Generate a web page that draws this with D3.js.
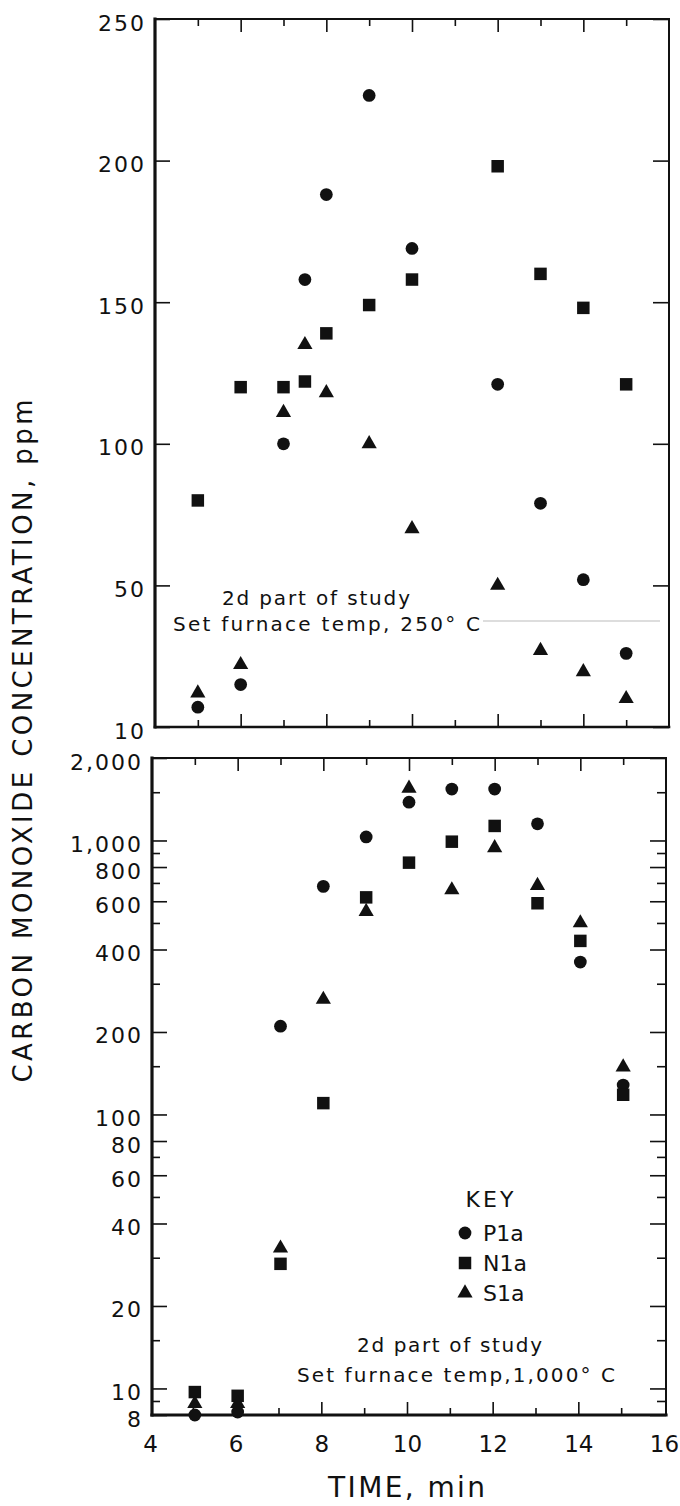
<!DOCTYPE html>
<html>
<head>
<meta charset="utf-8">
<script src="https://cdn.jsdelivr.net/npm/d3@7"></script>
<style>
  html, body { margin: 0; padding: 0; background: #fff; }
  svg text { font-family: "DejaVu Sans", sans-serif; fill: #111; }
</style>
</head>
<body>
<svg id="chart" width="680" height="1506"></svg>
<script>
// ---- Time axis (min) ----
const timeTicks = [5, 6, 7, 8, 9, 10, 11, 12, 13, 14, 15];
const timeLabels = [4, 6, 8, 10, 12, 14, 16];

// ---- Upper panel: furnace at 250 °C ----
const times250 = [5, 6, 7, 7.5, 8, 9, 10, 12, 13, 14, 15];
const p1a250 = [7, 15, 100, 158, 188, 223, 169, 121, 79, 52, 26];
const n1a250 = [80, 120, 120, 122, 139, 149, 158, 198, 160, 148, 121];
const s1a250 = [12, 22, 111, 135, 118, 100, 70, 50, 27, 19.5, 10];
const ticks250 = [0, 50, 100, 150, 200, 250];
const tickLabels250 = ["10", "50", "100", "150", "200", "250"];

// ---- Lower panel: furnace at 1,000 °C (log scale) ----
const times1000 = [5, 6, 7, 8, 9, 10, 11, 12, 13, 14, 15];
const p1a1000 = [8, 8.2, 210, 680, 1030, 1380, 1540, 1540, 1150, 360, 128];
const n1a1000 = [9.7, 9.4, 28.5, 110, 620, 830, 990, 1130, 590, 430, 118];
const s1a1000 = [8.8, 8.8, 32.5, 263, 550, 1550, 660, 940, 685, 500, 149];
const ticks1000Major = [8, 10, 20, 40, 60, 80, 100, 200, 400, 600, 800, 1000, 2000];
const ticks1000Minor = [9, 15, 30, 50, 70, 150, 300, 500, 700, 900, 1500];

const seriesNames = ["P1a", "N1a", "S1a"];
const symbolTypes = [d3.symbolCircle, d3.symbolSquare, d3.symbolTriangle];
const symbolSizes = [128, 156, 100];

const yTitle = "CARBON MONOXIDE CONCENTRATION, ppm";
const xTitle = "TIME, min";
const note250 = ["2d part of study", "Set furnace temp, 250° C"];
const note1000 = ["2d part of study", "Set furnace temp,1,000° C"];

const svg = d3.select("#chart");
const ink = "#111";

function symbolPath(i) {
  return d3.symbol().type(symbolTypes[i]).size(symbolSizes[i])();
}

function drawPanel(opt) {
  const g = svg.append("g");
  const x = opt.x, y = opt.y;
  const [x0, x1] = x.range();
  const [yb, yt] = y.range();

  // time ticks on top and bottom edges, pointing inward; even minutes longer
  const even = timeTicks.filter(t => t % 2 === 0);
  const odd = timeTicks.filter(t => t % 2 !== 0);
  [[even, 13], [odd, 7]].forEach(([vals, len]) => {
    g.append("g").attr("transform", `translate(0,${yt})`)
      .call(d3.axisTop(x).tickValues(vals).tickSize(-len).tickFormat(""));
    g.append("g").attr("transform", `translate(0,${yb})`)
      .call(d3.axisBottom(opt.xb || x).tickValues(vals).tickSize(-len).tickFormat(""));
  });

  // value ticks, left (labelled) and right, pointing inward
  const left = g.append("g").attr("transform", `translate(${x0},0)`)
    .call(d3.axisLeft(y).tickValues(opt.major).tickSize(-15).tickPadding(9)
      .tickFormat((d, i) => opt.labels(d, i)));
  left.selectAll("text")
    .attr("dy", "0.5em")
    .style("font-size", "22px")
    .style("letter-spacing", "2px");
  g.append("g").attr("transform", `translate(${x1},0)`)
    .call(d3.axisRight(y).tickValues(opt.major).tickSize(-16).tickFormat(""));
  if (opt.minor) {
    g.append("g").attr("transform", `translate(${x0},0)`)
      .call(d3.axisLeft(y).tickValues(opt.minor).tickSize(-8).tickFormat(""));
    g.append("g").attr("transform", `translate(${x1},0)`)
      .call(d3.axisRight(y).tickValues(opt.minor).tickSize(-9).tickFormat(""));
  }
  g.selectAll(".domain").remove();
  g.selectAll(".tick line").attr("stroke", ink).attr("stroke-width", 1.6);

  // frame: heavier left and bottom edges
  const frame = [
    [x0, yt, x0, yb, 3.2],
    [x0, yb, x1, yb, opt.bottomWidth],
    [x0, yt, x1, yt, 2],
    [x1, yt, x1, yb, 2]
  ];
  g.selectAll("line.frame").data(frame).join("line")
    .attr("class", "frame")
    .attr("x1", d => d[0]).attr("y1", d => d[1])
    .attr("x2", d => d[2]).attr("y2", d => d[3])
    .attr("stroke", ink).attr("stroke-width", d => d[4])
    .attr("stroke-linecap", "square");

  // data markers
  opt.series.forEach((vals, si) => {
    g.append("g").selectAll("path")
      .data(vals.map((v, i) => [opt.times[i], v]))
      .join("path")
      .attr("d", symbolPath(si))
      .attr("transform", d => `translate(${x(d[0])},${y(d[1])})`)
      .attr("fill", ink);
  });
  return g;
}

// ---- upper panel ----
const xTop = d3.scaleLinear().domain([4, 16]).range([155, 669]);
const yTop = d3.scaleLinear().domain([0, 250]).range([727, 19]);
const gTop = drawPanel({
  x: xTop, y: yTop, times: times250,
  series: [p1a250, n1a250, s1a250],
  major: ticks250,
  labels: (d, i) => tickLabels250[ticks250.indexOf(d)],
  bottomWidth: 2.6
});

// ---- lower panel ----
const xBot = d3.scaleLinear().domain([4, 16]).range([152, 666]);
const xBotEdge = d3.scaleLinear().domain([4, 16]).range([150, 664]);
const yBot = d3.scaleLog().domain([8, 2000]).range([1415, 758]);
const gBot = drawPanel({
  x: xBot, xb: xBotEdge, y: yBot, times: times1000,
  series: [p1a1000, n1a1000, s1a1000],
  major: ticks1000Major, minor: ticks1000Minor,
  labels: d => d3.format(",")(d),
  bottomWidth: 3.2
});

// time labels under the lower panel
const xLab = svg.append("g").attr("transform", "translate(0,1415)")
  .call(d3.axisBottom(xBotEdge).tickValues(timeLabels).tickSize(0).tickFormat(d3.format("d")));
xLab.select(".domain").remove();
xLab.selectAll("text")
  .attr("y", 37).attr("dy", 0)
  .style("font-size", "23px")
  .attr("fill", ink);

// axis titles
svg.append("text")
  .attr("transform", "translate(32,741) rotate(-90)")
  .attr("text-anchor", "middle")
  .attr("textLength", 683).attr("lengthAdjust", "spacing")
  .style("font-size", "26px")
  .text(yTitle);

svg.append("text")
  .attr("x", 328).attr("y", 1497)
  .attr("textLength", 157).attr("lengthAdjust", "spacing")
  .style("font-size", "28px")
  .text(xTitle);

// run notes
function note(lines, spec) {
  lines.forEach((t, i) => {
    svg.append("text")
      .attr("x", spec[i][0]).attr("y", spec[i][1])
      .attr("textLength", spec[i][2]).attr("lengthAdjust", "spacing")
      .style("font-size", "20px")
      .text(t);
  });
}
note(note250, [[222, 605, 188], [173, 631, 307]]);
note(note1000, [[357, 1352, 185], [297, 1382, 318]]);

// faint guide line beside the 250 °C note
svg.append("line")
  .attr("x1", 483).attr("x2", 660).attr("y1", 621).attr("y2", 621)
  .attr("stroke", "#bcbcbc").attr("stroke-width", 1.2);

// key
const key = svg.append("g").attr("transform", "translate(465,1233)");
key.append("text")
  .attr("x", 26).attr("y", -26)
  .attr("text-anchor", "middle")
  .style("font-size", "22px").style("letter-spacing", "3px")
  .text("KEY");
seriesNames.forEach((name, i) => {
  const row = key.append("g").attr("transform", `translate(0,${i * 30})`);
  row.append("path").attr("d", symbolPath(i)).attr("fill", ink);
  row.append("text").attr("x", 18).attr("y", 7.5)
    .style("font-size", "22px").text(name);
});
</script>
</body>
</html>
